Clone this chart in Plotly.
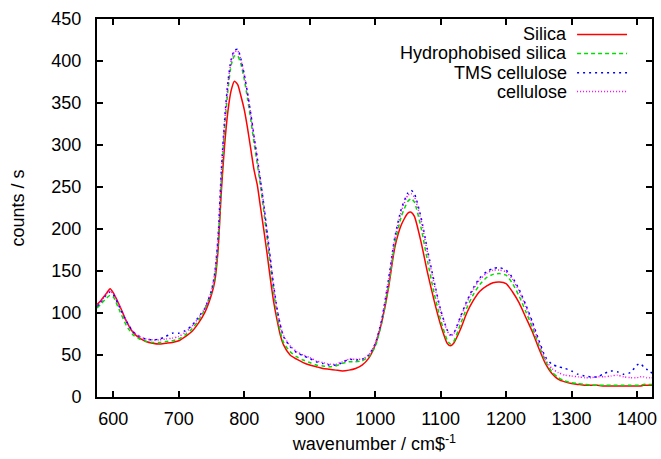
import plotly.graph_objects as go

# Raman spectra: wavenumber grid shared by all four samples
wavenumber = [575, 580, 590, 595, 600, 610, 620, 630, 640, 650, 660, 670, 680, 690, 700,
              710, 720, 730, 740, 750, 755, 760, 765, 770, 775, 780, 785, 790, 795, 800,
              805, 810, 815, 820, 825, 830, 835, 840, 845, 850, 855, 860, 870, 880, 890,
              900, 910, 920, 930, 940, 950, 960, 970, 980, 990, 1000, 1010, 1020, 1030,
              1040, 1050, 1055, 1060, 1070, 1080, 1090, 1100, 1110, 1115, 1120, 1130,
              1140, 1150, 1160, 1170, 1180, 1190, 1200, 1210, 1220, 1230, 1240, 1250,
              1260, 1270, 1280, 1290, 1300, 1310, 1320, 1330, 1340, 1350, 1360, 1370,
              1380, 1390, 1400, 1405, 1410, 1415, 1420, 1425]

silica = [110, 114, 124, 129, 124, 108, 90, 77, 70, 66, 64, 63, 64, 65, 67,
          72, 78, 88, 101, 122, 138, 175, 245, 300, 340, 365, 376, 372, 358, 342,
          320, 295, 270, 252, 225, 198, 170, 140, 113, 92, 74, 62, 50, 45, 41,
          38, 36, 34, 33, 32, 31, 32, 34, 38, 46, 62, 89, 128, 178,
          205, 219, 220, 215, 185, 148, 115, 86, 64, 61, 64, 80,
          100, 115, 126, 132, 136, 137, 135, 125, 112, 95, 78, 58,
          40, 28, 21, 18, 16, 15, 14, 14, 14, 13, 13, 13,
          13, 13, 13, 13, 14, 14, 14, 14]

hydrophobised = [106, 110, 118, 121, 119, 102, 85, 74, 69, 66, 65, 65, 66, 67, 69,
                 74, 81, 91, 105, 125, 142, 180, 255, 320, 365, 395, 406, 406, 396, 378,
                 355, 330, 302, 277, 250, 220, 188, 155, 124, 98, 78, 65, 54, 48, 44,
                 41, 38, 37, 36, 37, 40, 42, 42, 43, 48, 60, 88, 130, 182,
                 215, 233, 236, 232, 202, 162, 124, 92, 68, 63, 66, 86,
                 106, 122, 134, 142, 146, 147, 145, 135, 120, 102, 83, 62,
                 43, 30, 23, 19, 17, 16, 15, 14, 14, 14, 14, 14,
                 14, 14, 14, 14, 15, 15, 15, 15]

tms_cellulose = [108, 112, 122, 125, 122, 106, 90, 78, 72, 69, 68, 69, 72, 76, 76,
                 79, 85, 95, 106, 127, 148, 190, 270, 330, 375, 402, 413, 414, 402, 384,
                 362, 337, 310, 284, 257, 228, 196, 164, 132, 106, 86, 72, 60, 53, 49,
                 46, 42, 40, 38, 38, 41, 45, 44, 45, 50, 63, 92, 138, 190,
                 224, 243, 246, 242, 214, 175, 138, 104, 80, 74, 76, 95,
                 114, 130, 142, 149, 153, 154, 151, 142, 128, 110, 90, 68,
                 48, 39, 36, 34, 31, 27, 25, 24, 24, 28, 31, 30,
                 27, 29, 38, 40, 36, 33, 30, 28]

cellulose = [109, 113, 123, 126, 123, 107, 90, 78, 72, 69, 68, 68, 69, 70, 72,
             77, 84, 94, 106, 127, 148, 190, 268, 328, 372, 400, 411, 412, 401, 383,
             361, 336, 309, 283, 256, 227, 195, 163, 131, 105, 86, 73, 61, 54, 50,
             47, 43, 41, 39, 39, 42, 45, 45, 45, 50, 63, 91, 136, 188,
             221, 240, 242, 238, 211, 172, 135, 102, 79, 73, 75, 94,
             112, 128, 140, 147, 151, 151, 149, 140, 126, 108, 88, 66,
             45, 34, 29, 26, 25, 24, 23, 23, 24, 24, 25, 26,
             24, 23, 23, 24, 24, 23, 23, 23]

series_names = ["Silica", "Hydrophobised silica", "TMS cellulose", "cellulose"]
series_values = [silica, hydrophobised, tms_cellulose, cellulose]
series_colors = ["#ff0000", "#00dd00", "#0000ff", "#ff00ff"]
series_dash = ["solid", "4px,3px", "2px,4px", "1px,2px"]

x_ticks = [600, 700, 800, 900, 1000, 1100, 1200, 1300, 1400]
y_ticks = [0, 50, 100, 150, 200, 250, 300, 350, 400, 450]

FONT = "Liberation Sans, Arial, sans-serif"
FS = 18

fig = go.Figure()
for name, vals, color, dash in zip(series_names, series_values, series_colors, series_dash):
    fig.add_trace(go.Scatter(
        x=wavenumber, y=vals, mode="lines", name=name,
        line=dict(color=color, width=1.5, dash=dash, shape="spline", smoothing=0.6),
        showlegend=False,
    ))

# Key in the top-right corner: right-aligned labels with line samples after them
row_y = [0.959, 0.909, 0.858, 0.808]
for name, color, dash, yy in zip(series_names, series_colors, series_dash, row_y):
    fig.add_annotation(
        x=0.843, y=yy, xref="paper", yref="paper", text=name, showarrow=False,
        xanchor="right", yanchor="middle", xshift=4,
        font=dict(family=FONT, size=FS, color="black"),
    )
    fig.add_shape(
        type="line", xref="paper", yref="paper", x0=0.865, x1=0.955, y0=yy, y1=yy,
        line=dict(color=color, width=1.5, dash=dash),
    )

axis_common = dict(
    showgrid=False, zeroline=False, showline=True, linecolor="black", linewidth=2,
    mirror="ticks", ticks="inside", ticklen=6, tickwidth=2, tickcolor="black",
    tickfont=dict(family=FONT, size=FS, color="black"),
)

fig.update_xaxes(
    range=[575, 1423], tickvals=x_ticks, ticktext=[str(v) for v in x_ticks],
    ticklabelstandoff=4,
    title=dict(text="wavenumber / cm$<sup>-1</sup>", font=dict(family=FONT, size=FS, color="black"), standoff=10),
    **axis_common,
)
fig.update_yaxes(
    range=[0, 450], tickvals=y_ticks, ticktext=[str(v) for v in y_ticks],
    ticklabelstandoff=10,
    title=dict(text="counts / s", font=dict(family=FONT, size=FS, color="black"), standoff=22),
    **axis_common,
)

fig.update_layout(
    width=661, height=459,
    margin=dict(l=97, r=4, t=19, b=62),
    paper_bgcolor="white", plot_bgcolor="white",
    showlegend=False,
)

fig.write_html("out.html")
